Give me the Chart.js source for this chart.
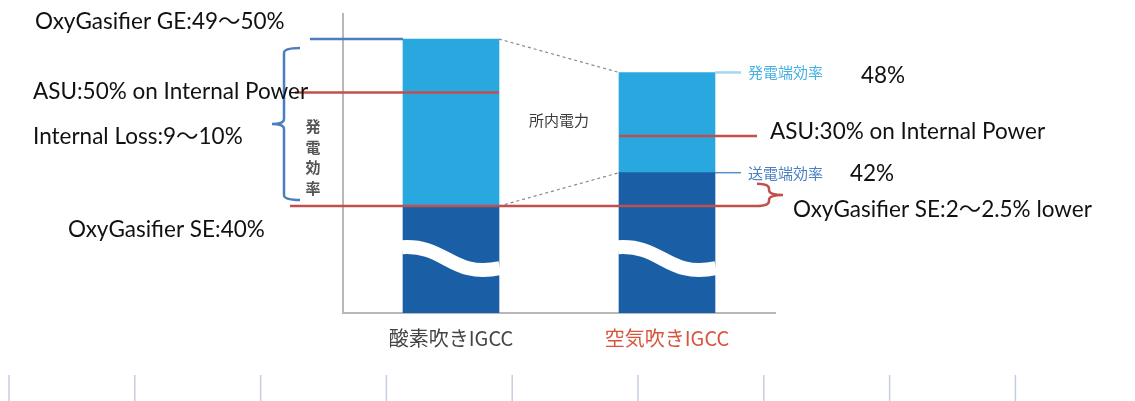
<!DOCTYPE html>
<html lang="ja">
<head>
<meta charset="utf-8">
<title>酸素吹きIGCC / 空気吹きIGCC 発電効率</title>
<script src="https://cdn.jsdelivr.net/npm/chart.js@4.4.1/dist/chart.umd.min.js"></script>
<style>
  html, body { margin: 0; padding: 0; background: #fff; }
  #wrap { width: 1135px; height: 401px; }
</style>
</head>
<body>
<div id="wrap"><canvas id="chart" width="1135" height="401"></canvas></div>
<script>
// 効率 (%) : 送電端 + 所内電力 = 発電端
const categories = ['酸素吹きIGCC', '空気吹きIGCC'];
const sendingEnd = [40, 42];        // 送電端効率
const internalPower = [10, 6];      // 所内電力
const asuLevel = [46.8, 44.2];      // ASU 分の線
const breakLevel = 36.7;            // 波線 (軸の省略)
const yMin = 33.6;
const yMax = 51.5;

const categoryColors = ['#454545', '#d9543d'];
const EN_FONT = "Lato, 'Noto Sans CJK JP', sans-serif";
const JP_FONT = "'Noto Sans CJK JP', sans-serif";
const RED = '#c0504d';
const BLUE = '#4a7ebf';

function brace(ctx, x, y1, y2, dir, hook, tip) {
  const m = (y1 + y2) / 2, r = 5;
  ctx.beginPath();
  ctx.moveTo(x - dir * hook, y1);
  ctx.quadraticCurveTo(x, y1, x, y1 + r);
  ctx.lineTo(x, m - r);
  ctx.quadraticCurveTo(x, m, x + dir * tip, m);
  ctx.quadraticCurveTo(x, m, x, m + r);
  ctx.lineTo(x, y2 - r);
  ctx.quadraticCurveTo(x, y2, x - dir * hook, y2);
  ctx.stroke();
}

function hline(ctx, x1, x2, y, color, width) {
  ctx.strokeStyle = color;
  ctx.lineWidth = width;
  ctx.beginPath();
  ctx.moveTo(x1, y);
  ctx.lineTo(x2, y);
  ctx.stroke();
}

function text(ctx, str, x, y, font, color, align) {
  ctx.font = font;
  ctx.fillStyle = color;
  ctx.textAlign = align || 'left';
  ctx.textBaseline = 'middle';
  ctx.fillText(str, x, y);
}

// 注記・波線・破線など
const overlay = {
  id: 'overlay',
  afterDatasetsDraw(chart) {
    const { ctx, scales: { y } } = chart;
    const dark = chart.getDatasetMeta(0).data;
    const light = chart.getDatasetMeta(1).data;
    const L = (i) => dark[i].x - dark[i].width / 2;
    const R = (i) => dark[i].x + dark[i].width / 2;
    const top = (i) => light[i].y;
    const mid = (i) => dark[i].y;
    const asu = asuLevel.map((v) => y.getPixelForValue(v));

    ctx.save();

    // 波線
    const c = y.getPixelForValue(breakLevel);
    ctx.strokeStyle = '#fff';
    ctx.lineWidth = 14;
    dark.forEach((b, i) => {
      const l = L(i), r = R(i), w = r - l;
      ctx.beginPath();
      ctx.moveTo(l - 1, c - 14);
      ctx.bezierCurveTo(l + w * 0.45, c - 17, l + w * 0.5, c + 17, r + 1, c + 7);
      ctx.stroke();
    });

    // 所内電力の破線
    ctx.setLineDash([3, 3]);
    ctx.strokeStyle = '#8a8a8a';
    ctx.lineWidth = 1.2;
    ctx.beginPath();
    ctx.moveTo(R(0), top(0));
    ctx.lineTo(L(1), top(1));
    ctx.moveTo(R(0), mid(0));
    ctx.lineTo(L(1), mid(1));
    ctx.stroke();
    ctx.setLineDash([]);

    // 右側の引き出し線
    hline(ctx, R(1), 741, top(1), '#a3d7f3', 2.5);
    hline(ctx, R(1), 741, mid(1), '#5b8dcb', 1.5);

    // 左の GE 線と括弧
    hline(ctx, 310, L(0), top(0), BLUE, 2.5);
    ctx.strokeStyle = BLUE;
    ctx.lineWidth = 2.5;
    brace(ctx, 284, top(0) + 9, mid(0) - 6, -1, 16, 12);

    // 赤線
    hline(ctx, 295, R(0), asu[0], RED, 2.5);
    hline(ctx, L(1), 757, asu[1], RED, 2.5);
    hline(ctx, 290, 757, mid(0), RED, 2.5);
    ctx.strokeStyle = RED;
    ctx.lineWidth = 2.5;
    brace(ctx, 769, mid(1) + 11, mid(0), 1, 12, 14);

    // テキスト
    const en = '22.5px ' + EN_FONT;
    text(ctx, 'OxyGasifier GE:49～50%', 35, top(0) - 17, en, '#111');
    text(ctx, 'ASU:50% on Internal Power', 33, asu[0] - 1, en, '#111');
    text(ctx, 'Internal Loss:9～10%', 33, (top(0) + mid(0)) / 2 + 14, en, '#111');
    text(ctx, 'OxyGasifier SE:40%', 68, mid(0) + 24, en, '#111');
    text(ctx, '48%', 861, top(1) + 3, en, '#111');
    text(ctx, 'ASU:30% on Internal Power', 770, asu[1] - 4, en, '#111');
    text(ctx, '42%', 850, mid(1) + 1, en, '#111');
    text(ctx, 'OxyGasifier SE:2～2.5% lower', 793, mid(0) + 4, en, '#111');

    const jp = '15px ' + JP_FONT;
    text(ctx, '発電端効率', 748, top(1), jp, '#45b0e5');
    text(ctx, '送電端効率', 748, mid(1) + 1, jp, '#4a7fc1');
    text(ctx, '所内電力', (R(0) + L(1)) / 2, (top(0) + mid(0)) / 2 - 2, '15px ' + JP_FONT, '#3a3a3a', 'center');

    const vy = (top(0) + mid(0)) / 2 + 4;
    ['発', '電', '効', '率'].forEach((ch, k) => {
      text(ctx, ch, 313, vy + k * 20.5, 'bold 15px ' + JP_FONT, '#555', 'center');
    });

    ctx.restore();
  },
  afterDraw(chart) {
    // 下端の区切り線
    const { ctx } = chart;
    ctx.save();
    ctx.strokeStyle = '#c5cde0';
    ctx.lineWidth = 1.5;
    for (let i = 0; i < 9; i++) {
      const x = 9 + i * 125.8;
      ctx.beginPath();
      ctx.moveTo(x, 375);
      ctx.lineTo(x, 401);
      ctx.stroke();
    }
    ctx.restore();
  }
};

new Chart(document.getElementById('chart'), {
  type: 'bar',
  data: {
    labels: categories,
    datasets: [
      {
        label: '送電端効率',
        data: sendingEnd,
        backgroundColor: '#1a5fa6',
        barThickness: 96,
      },
      {
        label: '所内電力',
        data: internalPower,
        backgroundColor: '#29a8e0',
        barThickness: 96,
      },
    ],
  },
  options: {
    responsive: false,
    animation: false,
    events: [],
    layout: {
      padding: { left: 343, right: 360, top: 14, bottom: 0 },
    },
    plugins: {
      legend: { display: false },
      tooltip: { enabled: false },
    },
    scales: {
      x: {
        stacked: true,
        grid: { display: false, drawTicks: false },
        border: { color: '#b8b8b8', width: 2 },
        ticks: {
          color: (c) => categoryColors[c.index],
          font: { family: JP_FONT, size: 20 },
          padding: 13,
        },
        afterFit: (scale) => { scale.height = 88; },
      },
      y: {
        stacked: true,
        min: yMin,
        max: yMax,
        grid: { display: false, drawTicks: false },
        border: { color: '#b8b8b8', width: 2 },
        ticks: { display: false },
        afterFit: (scale) => { scale.width = 0; },
      },
    },
  },
  plugins: [overlay],
});
</script>
</body>
</html>
